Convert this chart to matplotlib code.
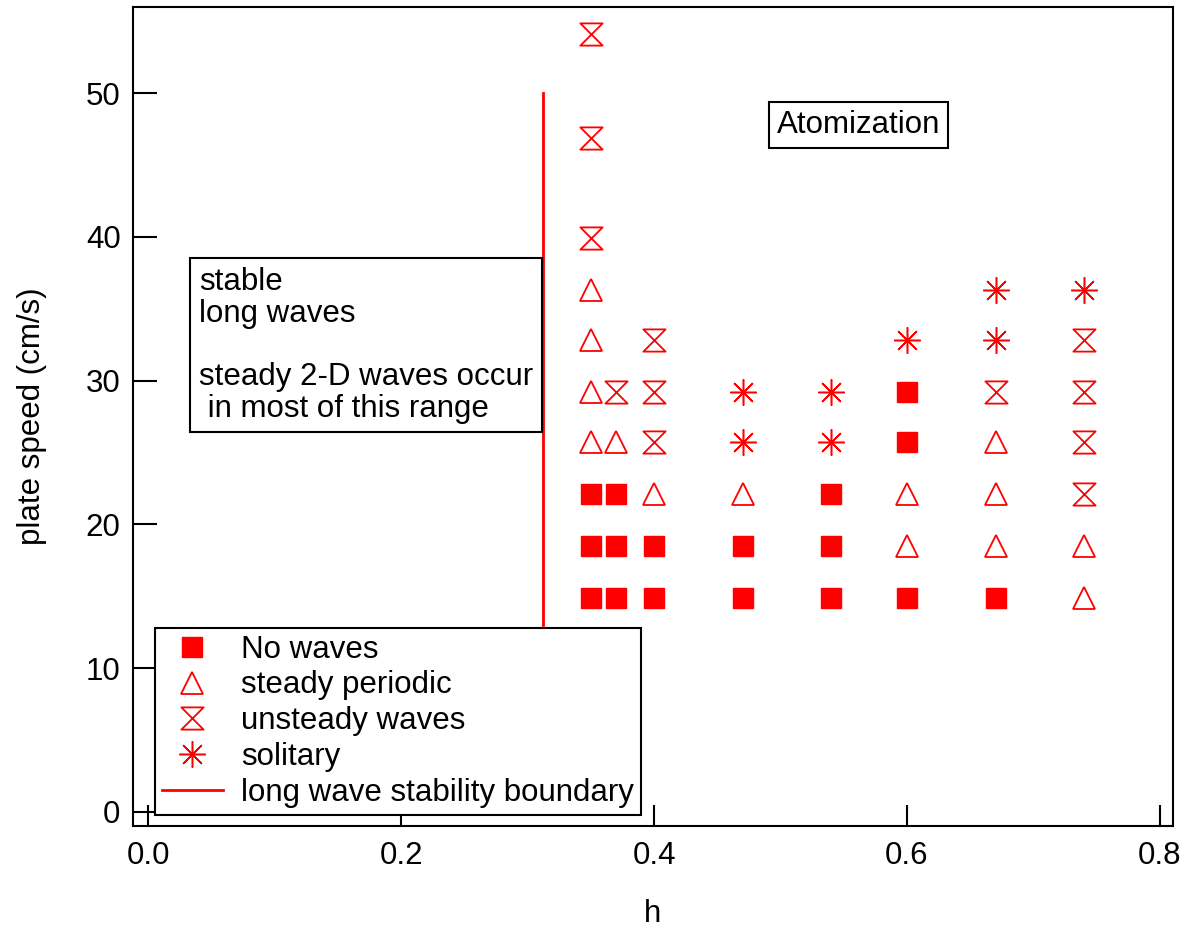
import numpy as np
import matplotlib.pyplot as plt
from matplotlib.path import Path

plt.rcParams['font.family'] = ['Liberation Sans', 'DejaVu Sans']

# regime map: film thickness h vs plate speed, one list pair per regime
no_waves_h = [0.35, 0.35, 0.35, 0.37, 0.37, 0.37, 0.40, 0.40, 0.47, 0.47,
              0.54, 0.54, 0.54, 0.60, 0.60, 0.60, 0.67]
no_waves_v = [14.9, 18.5, 22.1, 14.9, 18.5, 22.1, 14.9, 18.5, 14.9, 18.5,
              14.9, 18.5, 22.1, 14.9, 25.7, 29.2, 14.9]

periodic_h = [0.35, 0.35, 0.35, 0.35, 0.37, 0.40, 0.47, 0.60, 0.60,
              0.67, 0.67, 0.67, 0.74, 0.74]
periodic_v = [25.7, 29.2, 32.8, 36.3, 25.7, 22.1, 22.1, 18.5, 22.1,
              18.5, 22.1, 25.7, 14.9, 18.5]

unsteady_h = [0.35, 0.35, 0.35, 0.37, 0.40, 0.40, 0.40, 0.67,
              0.74, 0.74, 0.74, 0.74]
unsteady_v = [39.9, 46.9, 54.1, 29.2, 25.7, 29.2, 32.8, 29.2,
              22.1, 25.7, 29.2, 32.8]

solitary_h = [0.47, 0.47, 0.54, 0.54, 0.60, 0.67, 0.67, 0.74]
solitary_v = [25.7, 29.2, 25.7, 29.2, 32.8, 32.8, 36.3, 36.3]

boundary_h = [0.312, 0.312]
boundary_v = [13.0, 50.0]

red = '#ff0000'
fs = 22.5

# hourglass marker: two triangles meeting at the tips
hourglass = Path([(-1, 1), (1, 1), (-1, -1), (1, -1), (-1, 1)],
                 [Path.MOVETO, Path.LINETO, Path.LINETO, Path.LINETO, Path.CLOSEPOLY])

fig = plt.figure(figsize=(11.88, 9.31), dpi=100)
ax = fig.add_axes([0.112, 0.113, 0.875, 0.8795])

ax.plot(no_waves_h, no_waves_v, 's', ms=15, color=red, mec=red,
        label='No waves')
ax.plot(periodic_h, periodic_v, '^', ms=16, mfc='none', mec=red, mew=1.3,
        label='steady periodic')
ax.plot(unsteady_h, unsteady_v, ls='none', marker=hourglass, ms=16,
        mfc='none', mec=red, mew=1.3, label='unsteady waves')
ax.plot(solitary_h, solitary_v, ls='none', marker=(8, 2, 0), ms=19,
        mec=red, mew=1.1, label='solitary')
ax.plot(boundary_h, boundary_v, '-', color=red, lw=2,
        label='long wave stability boundary')

ax.set_xlim(-0.012, 0.81)
ax.set_ylim(-0.97, 56)
ax.set_xticks(np.arange(0, 0.81, 0.2))
ax.set_xticklabels(['0.0', '0.2', '0.4', '0.6', '0.8'])
ax.set_yticks(np.arange(0, 51, 10))
ax.tick_params(axis='x', direction='in', length=15, width=1.5, pad=11,
               labelsize=fs)
ax.tick_params(axis='y', direction='in', length=17, width=1.5, pad=9,
               labelsize=fs)
for s in ax.spines.values():
    s.set_linewidth(1.5)

ax.set_xlabel('h', fontsize=fs, labelpad=20)
ax.set_ylabel('plate speed (cm/s)', fontsize=fs, labelpad=28)

ax.text(0.040, 37.9, 'stable\nlong waves\n\nsteady 2-D waves occur\n in most of this range',
        fontsize=fs, ha='left', va='top', linespacing=1.07,
        bbox=dict(boxstyle='square,pad=0.28', fc='white', ec='black', lw=1.5))
ax.text(0.562, 47.8, 'Atomization', fontsize=fs, ha='center', va='center',
        bbox=dict(boxstyle='square,pad=0.25', fc='white', ec='black', lw=1.5))

leg = ax.legend(loc='lower left', bbox_to_anchor=(0.021, 0.013), fontsize=fs,
                frameon=True, fancybox=False, edgecolor='black',
                labelspacing=0.19, handlelength=1.95, handletextpad=0.6,
                borderpad=0.22, borderaxespad=0)
leg.get_frame().set_linewidth(1.5)
leg.get_frame().set_alpha(1)

fig.savefig('out.png', dpi=100)
